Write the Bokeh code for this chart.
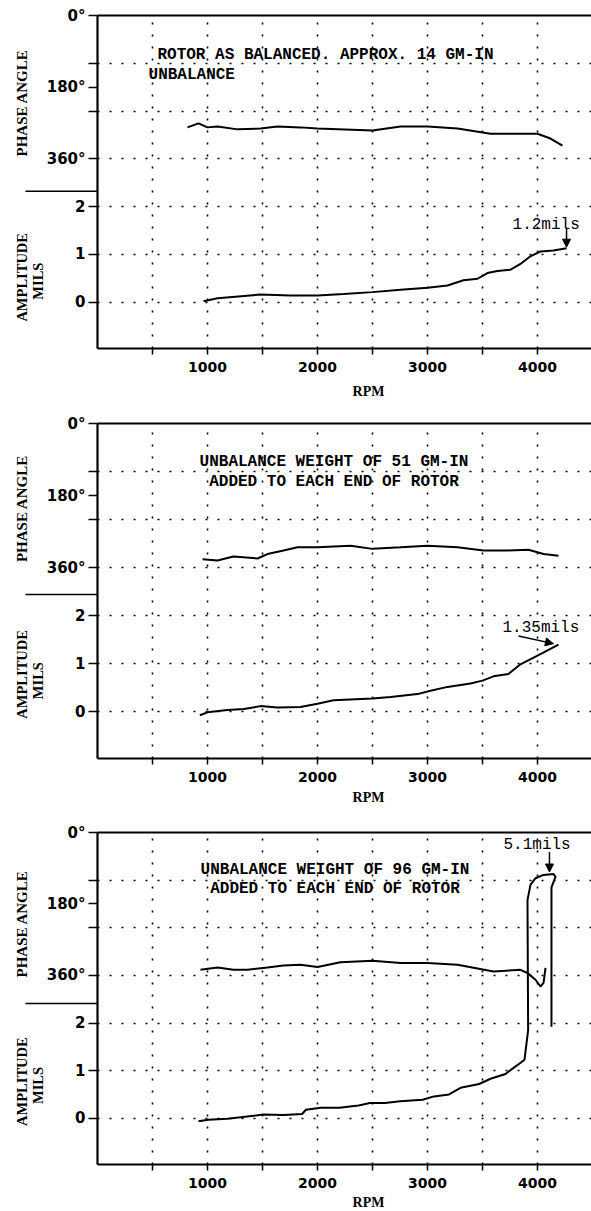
from math import pi
from bokeh.plotting import figure
from bokeh.models import Range1d, LinearAxis, FixedTicker, Grid, Label, Arrow, NormalHead
from bokeh.layouts import column
from bokeh.embed import file_html
from bokeh.resources import INLINE

# ---------------- data ----------------
X_START, X_END = -882, 4491          # plotted RPM span (axis itself starts at 0)
Y_BOT, Y_TOP = -0.97, 6.0            # amplitude span of the chart box
DEG_PER_MIL = 120                    # phase scale: 0 deg at top, 360 deg three grid steps lower

x_ticks = [500, 1000, 1500, 2000, 2500, 3000, 3500, 4000, 4500]
x_tick_labels = ["", "1000", "", "2000", "", "3000", "", "4000", ""]
y_ticks = [0, 1, 2, 3, 4, 4.5, 5, 6]
y_tick_labels = ["0", "1", "2", "360°", "", "180°", "", "0°"]
grid_x = [500, 1000, 1500, 2000, 2500, 3000, 3500, 4000]
grid_y = [0, 1, 2, 3, 4, 5]

# panel 1 : rotor as balanced
p1_phase_rpm = [818, 918, 1000, 1091, 1273, 1482, 1636, 1845, 2000, 2500, 2755, 3000, 3273, 3573, 4000, 4118, 4227]
p1_phase_deg = [281, 271, 281, 279, 286, 284, 279, 281, 284, 289, 279, 279, 284, 297, 297, 309, 327]
p1_amp_rpm = [964, 1091, 1482, 1755, 2000, 2236, 2500, 2755, 3000, 3182, 3327, 3455, 3545, 3636, 3755, 3845, 3936, 4027, 4145, 4264]
p1_amp_mils = [0.02, 0.08, 0.16, 0.14, 0.14, 0.17, 0.21, 0.26, 0.30, 0.35, 0.46, 0.49, 0.61, 0.65, 0.68, 0.80, 0.96, 1.06, 1.08, 1.13]

# panel 2 : 51 gm-in added
p2_phase_rpm = [955, 1091, 1236, 1455, 1545, 1691, 1818, 2000, 2300, 2500, 2755, 3000, 3273, 3509, 3727, 3918, 4055, 4191]
p2_phase_deg = [339, 342, 332, 337, 326, 317, 309, 309, 305, 313, 309, 305, 309, 317, 317, 315, 326, 330]
p2_amp_rpm = [930, 1000, 1182, 1330, 1482, 1636, 1845, 2000, 2145, 2500, 2664, 2909, 3027, 3182, 3391, 3500, 3600, 3736, 3845, 4000, 4191]
p2_amp_mils = [-0.07, -0.01, 0.04, 0.06, 0.12, 0.09, 0.10, 0.17, 0.24, 0.28, 0.31, 0.37, 0.44, 0.52, 0.59, 0.65, 0.74, 0.79, 0.99, 1.17, 1.40]

# panel 3 : 96 gm-in added
p3_phase_rpm = [936, 1091, 1236, 1364, 1545, 1691, 1845, 2000, 2209, 2500, 2755, 3000, 3273, 3600, 3845, 3909, 3982, 4027, 4055, 4073]
p3_phase_deg = [346, 340, 346, 346, 340, 335, 333, 339, 327, 323, 329, 329, 333, 350, 346, 354, 371, 388, 379, 341]
p3_amp_rpm = [918, 1009, 1182, 1300, 1509, 1691, 1860, 1895, 2030, 2200, 2373, 2476, 2614, 2750, 2955, 3059, 3196, 3300,
              3470, 3573, 3709, 3813, 3882, 3915, 3909, 3936, 3982, 4055, 4145, 4164, 4127, 4127]
p3_amp_mils = [-0.06, -0.03, -0.01, 0.02, 0.08, 0.07, 0.09, 0.18, 0.22, 0.22, 0.27, 0.32, 0.32, 0.36, 0.39, 0.46, 0.50, 0.64,
               0.72, 0.83, 0.93, 1.11, 1.23, 1.85, 4.58, 4.90, 5.04, 5.11, 5.13, 5.07, 4.85, 1.92]

notes1 = ["ROTOR AS BALANCED.  APPROX. 14 GM-IN", "UNBALANCE"]
notes2 = ["UNBALANCE WEIGHT OF 51 GM-IN", "ADDED TO EACH END OF ROTOR"]
notes3 = ["UNBALANCE WEIGHT OF 96 GM-IN", "ADDED TO EACH END OF ROTOR"]
peak_labels = ["1.2mils", "1.35mils", "5.1mils"]

# ---------------- layout / style ----------------
W = 591
NOTE_FONT = "Liberation Mono"
SERIF = "Liberation Serif"
TICK_FONT = "DejaVu Sans"


def make_grid(dim, ticks, cross):
    kw = dict(dimension=dim, ticker=FixedTicker(ticks=ticks), grid_line_color="black",
              grid_line_dash="2 10", grid_line_width=1.6)
    try:
        return Grid(cross_bounds=cross, **kw), False
    except Exception:
        return Grid(**kw), True


def make_panel(fig_h, b_top, frame_px, ph_rpm, ph_deg, a_rpm, a_mils, notes, note_pos, peak, peak_pos,
               arrow_pos, divider_y, phase_lbl_y, amp_lbl_y, mils_lbl_y, rpm_lbl_y):
    k = frame_px / (Y_TOP - Y_BOT)                      # pixels per mil
    y_ext = Y_BOT - (fig_h - b_top - frame_px) / k      # room below the box for x labels
    y_hi = Y_TOP + b_top / k                            # room above the box for the 0 deg label
    p = figure(width=W, height=fig_h, x_range=Range1d(X_START, X_END), y_range=Range1d(y_ext, y_hi),
               x_axis_type=None, y_axis_type=None, output_backend="svg", toolbar_location=None,
               min_border_left=0, min_border_right=0, min_border_top=0, min_border_bottom=0,
               outline_line_color=None, background_fill_color="white", border_fill_color="white")
    p.extra_y_ranges = {"phase": Range1d(start=(Y_TOP - y_ext) * DEG_PER_MIL, end=(Y_TOP - y_hi) * DEG_PER_MIL)}

    # dotted grid
    gx, need_mask = make_grid(0, grid_x, (Y_BOT, Y_TOP))
    gy, _ = make_grid(1, grid_y, (0, X_END))
    p.add_layout(gx)
    p.add_layout(gy)
    if need_mask:
        p.quad(left=X_START, right=0, bottom=y_ext, top=y_hi, color="white")
        p.quad(left=0, right=X_END, bottom=y_ext, top=Y_BOT, color="white")
        p.quad(left=0, right=X_END, bottom=Y_TOP, top=y_hi, color="white")

    # axes
    xax = LinearAxis(fixed_location=Y_BOT, bounds=(0, X_END), ticker=FixedTicker(ticks=x_ticks),
                     major_label_overrides=dict(zip(x_ticks, x_tick_labels)),
                     axis_line_width=2.2, major_tick_line_width=1.5, major_tick_in=0, major_tick_out=6,
                     minor_tick_line_color=None, major_label_standoff=7,
                     major_label_text_font=TICK_FONT, major_label_text_font_style="bold",
                     major_label_text_font_size="14px", major_label_text_color="black")
    p.add_layout(xax, "below")
    yax = LinearAxis(fixed_location=0, bounds=(Y_BOT, Y_TOP), ticker=FixedTicker(ticks=y_ticks),
                     major_label_overrides=dict(zip(y_ticks, y_tick_labels)),
                     axis_line_width=2.2, major_tick_line_width=1.5, major_tick_in=0, major_tick_out=9,
                     minor_tick_line_color=None, major_label_standoff=3,
                     major_label_text_font=TICK_FONT, major_label_text_font_style="bold",
                     major_label_text_font_size="15px", major_label_text_color="black")
    p.add_layout(yax, "left")
    top = LinearAxis(fixed_location=Y_TOP, bounds=(0, X_END), ticker=FixedTicker(ticks=[]),
                     axis_line_width=2.2, major_tick_line_color=None, minor_tick_line_color=None,
                     major_label_text_font_size="0px")
    p.add_layout(top, "above")

    # traces
    p.line(ph_rpm, ph_deg, y_range_name="phase", line_color="black", line_width=2)
    p.line(a_rpm, a_mils, line_color="black", line_width=2)

    # notes
    for txt, (nx, ny, al) in zip(notes, note_pos):
        p.add_layout(Label(x=nx, y=ny, text=txt, text_align=al, text_baseline="middle",
                           text_font=NOTE_FONT, text_font_style="bold", text_font_size="16px",
                           text_color="black"))
    p.add_layout(Label(x=peak_pos[0], y=peak_pos[1], text=peak, text_align="left", text_baseline="middle",
                       text_font=NOTE_FONT, text_font_size="16px", text_color="black"))
    p.add_layout(Arrow(x_start=arrow_pos[0], y_start=arrow_pos[1], x_end=arrow_pos[2], y_end=arrow_pos[3],
                       line_width=1.5, line_color="black",
                       end=NormalHead(size=8, fill_color="black", line_color="black")))

    # side labels and the divider between the phase and amplitude sections
    p.line([-655, 0], [divider_y, divider_y], line_color="black", line_width=1.5)
    p.add_layout(Label(x=-691, y=phase_lbl_y, text="PHASE ANGLE", angle=pi / 2, text_align="center",
                       text_baseline="middle", text_font=SERIF, text_font_style="bold",
                       text_font_size="15px", text_color="black"))
    p.add_layout(Label(x=-691, y=amp_lbl_y, text="AMPLITUDE", angle=pi / 2, text_align="center",
                       text_baseline="middle", text_font=SERIF, text_font_style="bold",
                       text_font_size="14.5px", text_color="black"))
    p.add_layout(Label(x=-541, y=mils_lbl_y, text="MILS", angle=pi / 2, text_align="center",
                       text_baseline="middle", text_font=SERIF, text_font_style="bold",
                       text_font_size="14.5px", text_color="black"))
    p.add_layout(Label(x=2464, y=rpm_lbl_y, text="RPM", text_align="center", text_baseline="middle",
                       text_font=SERIF, text_font_style="bold", text_font_size="14px", text_color="black"))
    return p


p1 = make_panel(400, 15, 333, p1_phase_rpm, p1_phase_deg, p1_amp_rpm, p1_amp_mils,
                notes1, [(545, 5.17, "left"), (464, 4.75, "left")],
                peak_labels[0], (3773, 1.625), (4264, 1.54, 4264, 1.15),
                2.32, 4.17, 0.52, 0.44, -1.875)
p2 = make_panel(405, 23, 335, p2_phase_rpm, p2_phase_deg, p2_amp_rpm, p2_amp_mils,
                notes2, [(2150, 5.19, "center"), (2150, 4.79, "center")],
                peak_labels[1], (3682, 1.75), (3827, 1.58, 4145, 1.42),
                2.44, 4.23, 0.78, 0.65, -1.79)
p3 = make_panel(406, 27, 332, p3_phase_rpm, p3_phase_deg, p3_amp_rpm, p3_amp_mils,
                notes3, [(2159, 5.21, "center"), (2159, 4.82, "center")],
                peak_labels[2], (3691, 5.74), (4109, 5.59, 4109, 5.17),
                2.41, 4.08, 0.77, 0.69, -1.77)

layout = column(p1, p2, p3, spacing=0)
open("out.html", "w").write(file_html(layout, INLINE))
